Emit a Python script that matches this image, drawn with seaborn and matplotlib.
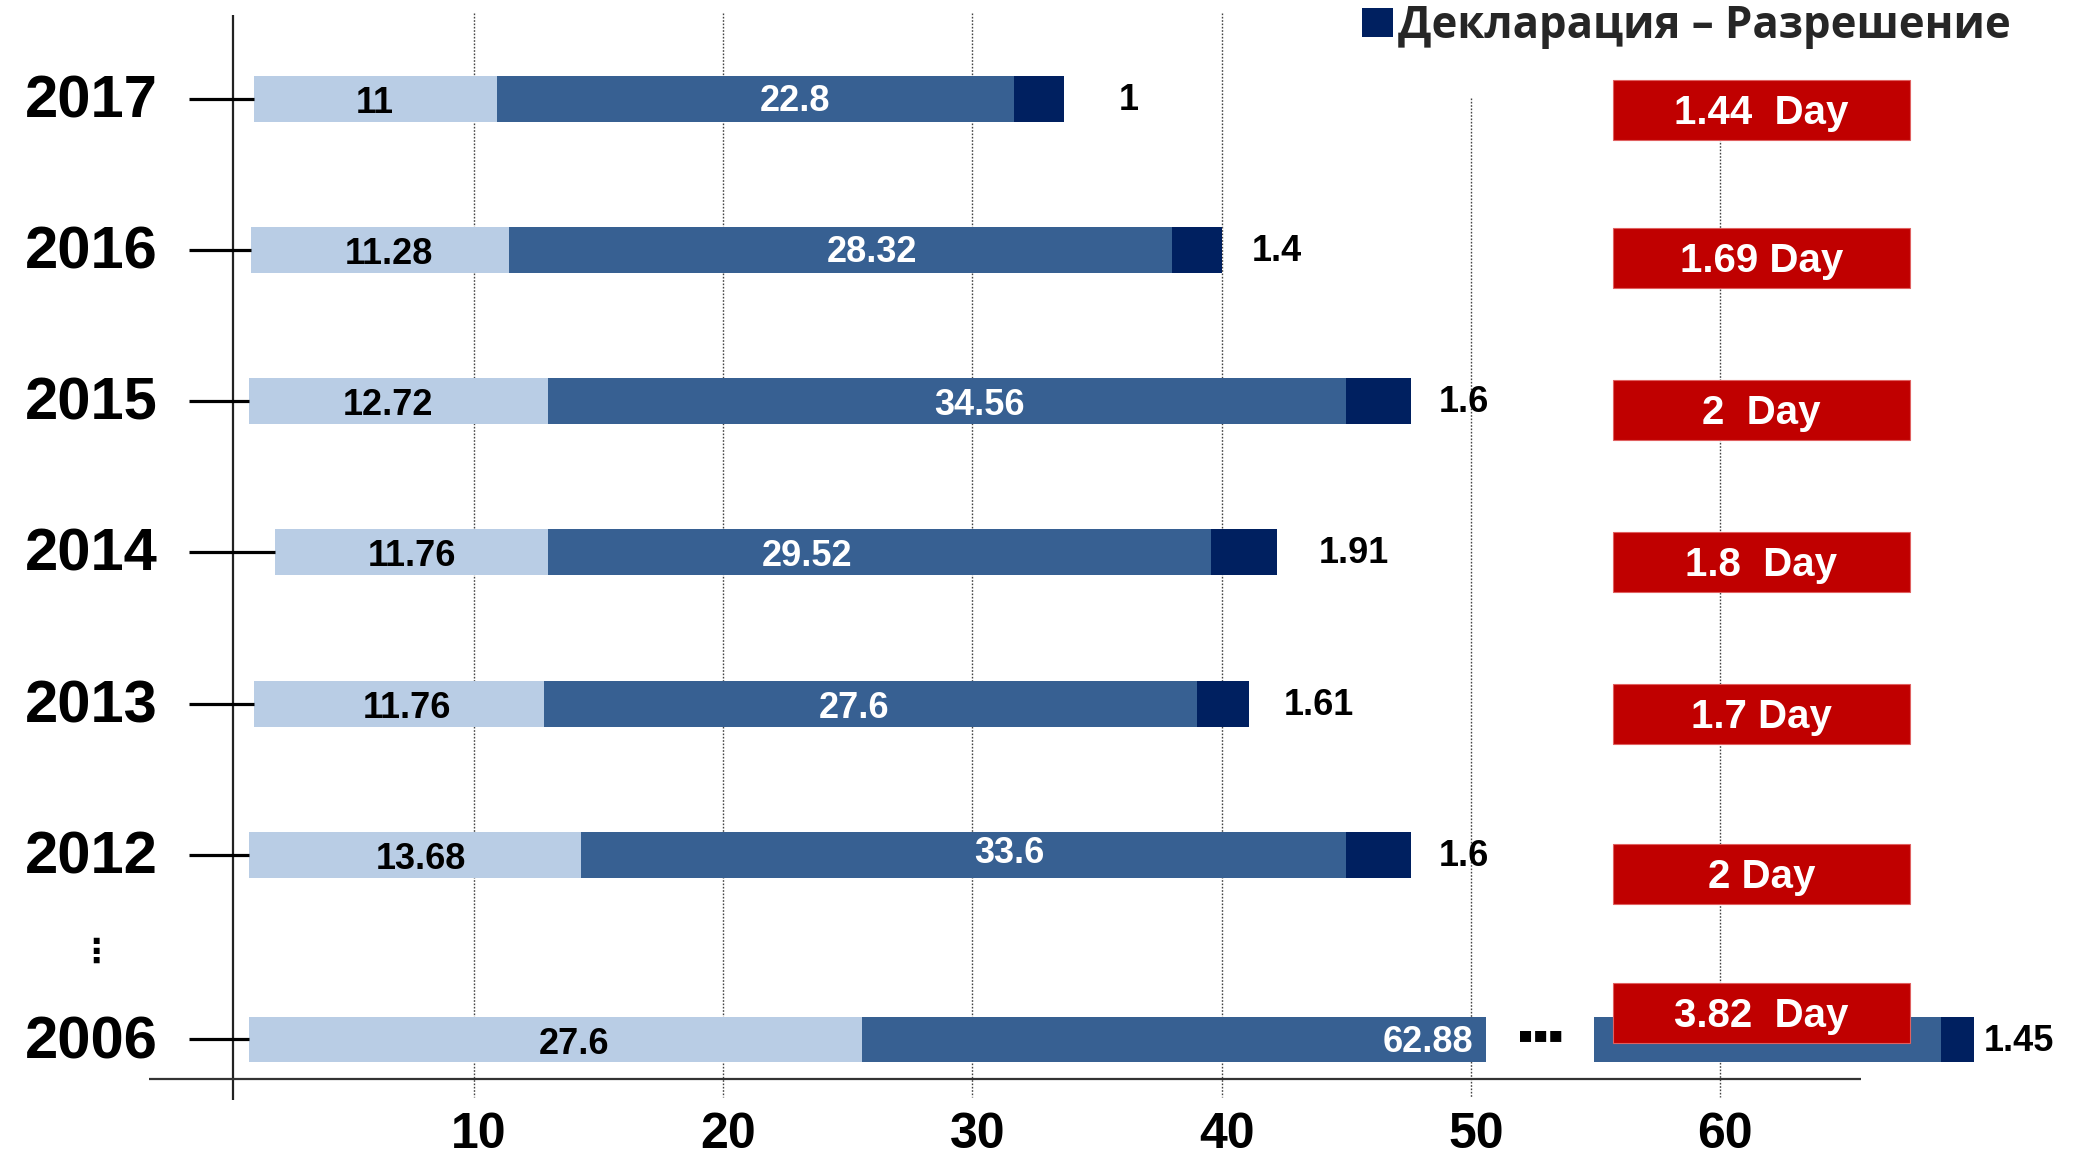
import numpy as np
import pandas as pd
import matplotlib
matplotlib.use('Agg')
import matplotlib.pyplot as plt
from matplotlib.patches import Patch
import seaborn as sns

# ---------------- data ----------------
years = ['2017', '2016', '2015', '2014', '2013', '2012', '2006']
inspection_days = ['11', '11.28', '12.72', '11.76', '11.76', '13.68', '27.6']
processing_days = ['22.8', '28.32', '34.56', '29.52', '27.6', '33.6', '62.88']
release_days = ['1', '1.4', '1.6', '1.91', '1.61', '1.6', '1.45']
total_days = ['1.44  Day', '1.69 Day', '2  Day', '1.8  Day', '1.7 Day', '2 Day', '3.82  Day']
x_ticks = [10, 20, 30, 40, 50, 60]
x_tick_labels = ['10', '20', '30', '40', '50', '60']
legend_label = 'Декларация – Разрешение'

# segment boundaries as drawn in the picture (axis units)
seg_start = [1.17, 1.05, 0.97, 2.01, 1.17, 0.97, 0.97]
seg_light_end = [10.94, 11.39, 12.97, 12.97, 12.80, 14.29, 25.57]
seg_mid_end = [31.66, 38.01, 44.98, 39.57, 39.00, 44.98, 50.60]
seg_end = [33.68, 40.00, 47.60, 42.21, 41.09, 47.60, 70.19]
break_year = '2006'
break_resume = 54.94
break_mid_end = 68.87

# ---------------- layout ----------------
row_pos = [0, 1, 2, 3, 4, 5, 6.22]
bar_h = 0.304
box_dy = [0.073, 0.053, 0.061, 0.06, 0.068, 0.126, -0.175]
box_left, box_w, box_h = 55.71, 11.91, 0.397
release_gap = [2.2, 1.2, 1.1, 1.7, 1.4, 1.1, 0.4]
light_lab_x = [6.03, 6.6, 6.55, 7.5, 7.3, 7.87, 14.0]
mid_lab_x = [22.87, 25.97, 30.3, 23.35, 25.24, 31.5, 50.1]
mid_lab_dy = [0.02, 0.02, 0.03, 0.03, 0.03, -0.01, 0.02]

C_LIGHT = '#B9CDE5'
C_MID = '#376092'
C_NAVY = '#002060'
C_RED = '#C00000'

sns.set_theme(style='white')
plt.rcParams['font.family'] = ['Liberation Sans', 'DejaVu Sans']

fig = plt.figure(figsize=(20.93, 11.67), dpi=100)
ax = fig.add_axes([0, 0, 1, 1])

# long table for overlayed (stacked-looking) bars
recs = []
for i, y in enumerate(years):
    recs.append((row_pos[i], 'end', seg_end[i]))
    if y == break_year:
        recs.append((row_pos[i], 'mid_cont', break_mid_end))
        recs.append((row_pos[i], 'gap', break_resume))
    recs.append((row_pos[i], 'mid', seg_mid_end[i]))
    recs.append((row_pos[i], 'light', seg_light_end[i]))
    recs.append((row_pos[i], 'start', seg_start[i]))
df = pd.DataFrame(recs, columns=['row', 'part', 'value'])
order = ['end', 'mid_cont', 'gap', 'mid', 'light', 'start']
pal = {'end': C_NAVY, 'mid_cont': C_MID, 'gap': 'white', 'mid': C_MID,
       'light': C_LIGHT, 'start': 'white'}

# gridlines
grid_top = [-0.567, -0.567, -0.567, -0.567, -0.007, 0.0]
for xv, top in zip(x_ticks, grid_top):
    ax.vlines(xv, top, 6.6, colors='#444444', linestyles=(0, (1.2, 1.2)), lw=1.0, zorder=0.5)

sns.barplot(data=df, x='value', y='row', hue='part', hue_order=order, palette=pal,
            orient='h', native_scale=True, dodge=False, width=bar_h, linewidth=0,
            saturation=1, errorbar=None, legend=False, ax=ax, zorder=2)

ax.set_xlim(-9.02, 74.97)
ax.set_ylim(7.063, -0.6525)
ax.set_axis_off()

# axes lines
ax.vlines(0.33, -0.553, 6.62, colors='#222222', lw=1.6, zorder=5)
ax.hlines(6.481, -3.05, 65.66, colors='#333333', lw=1.6, zorder=5)

LAB = 26
# year labels and tick lines
for i, y in enumerate(years):
    r = row_pos[i]
    ax.hlines(r, -1.44, seg_start[i], colors='black', lw=2.3, zorder=5)
    ax.text(-2.68, r + 0.02, y, ha='right', va='center', fontsize=43, weight='bold', color='black')
    # segment labels
    ax.text(light_lab_x[i], r + 0.03, inspection_days[i], ha='center',
            va='center', fontsize=LAB, weight='bold', color='black', zorder=6)
    ha = 'right' if y == break_year else 'center'
    ax.text(mid_lab_x[i], r + mid_lab_dy[i], processing_days[i], ha=ha,
            va='center', fontsize=LAB, weight='bold', color='white', zorder=6)
    ax.text(seg_end[i] + release_gap[i], r + 0.01, release_days[i], ha='left', va='center',
            fontsize=LAB, weight='bold', color='black', zorder=6)

# red total boxes
box_rows = [row_pos[i] + box_dy[i] for i in range(len(years))]
ax.barh(box_rows, [box_w] * len(years), left=box_left, height=box_h, color=C_RED,
        edgecolor='#E06060', linewidth=0.8, zorder=7)
for i in range(len(years)):
    ax.text(box_left + box_w / 2, box_rows[i] + 0.02, total_days[i], ha='center', va='center',
            fontsize=29, weight='bold', color='white', zorder=8)

# x tick labels
for xv, lab in zip(x_ticks, x_tick_labels):
    ax.text(xv + 0.2, 6.85, lab, ha='center', va='center', fontsize=36, weight='bold', color='black')

# ellipsis marks
ax.text(-5.17, 5.645, '⋮', ha='center', va='center', fontsize=24, weight='bold',
        family=['DejaVu Sans'], color='black')
ax.text(52.8, 6.19, '▪▪▪', ha='center', va='center', fontsize=16, weight='bold',
        family=['DejaVu Sans'], color='black')

# legend
leg = ax.legend(handles=[Patch(facecolor=C_NAVY, edgecolor='none')], labels=[legend_label],
                loc='upper left', bbox_to_anchor=(1362 / 2093, 0.997), frameon=False,
                handlelength=0.7, handleheight=0.65, handletextpad=0.12, borderpad=0,
                borderaxespad=0.0,
                prop={'family': ['Open Sans', 'DejaVu Sans'], 'weight': 'bold', 'size': 31.5})

fig.savefig('out.png', dpi=100)
